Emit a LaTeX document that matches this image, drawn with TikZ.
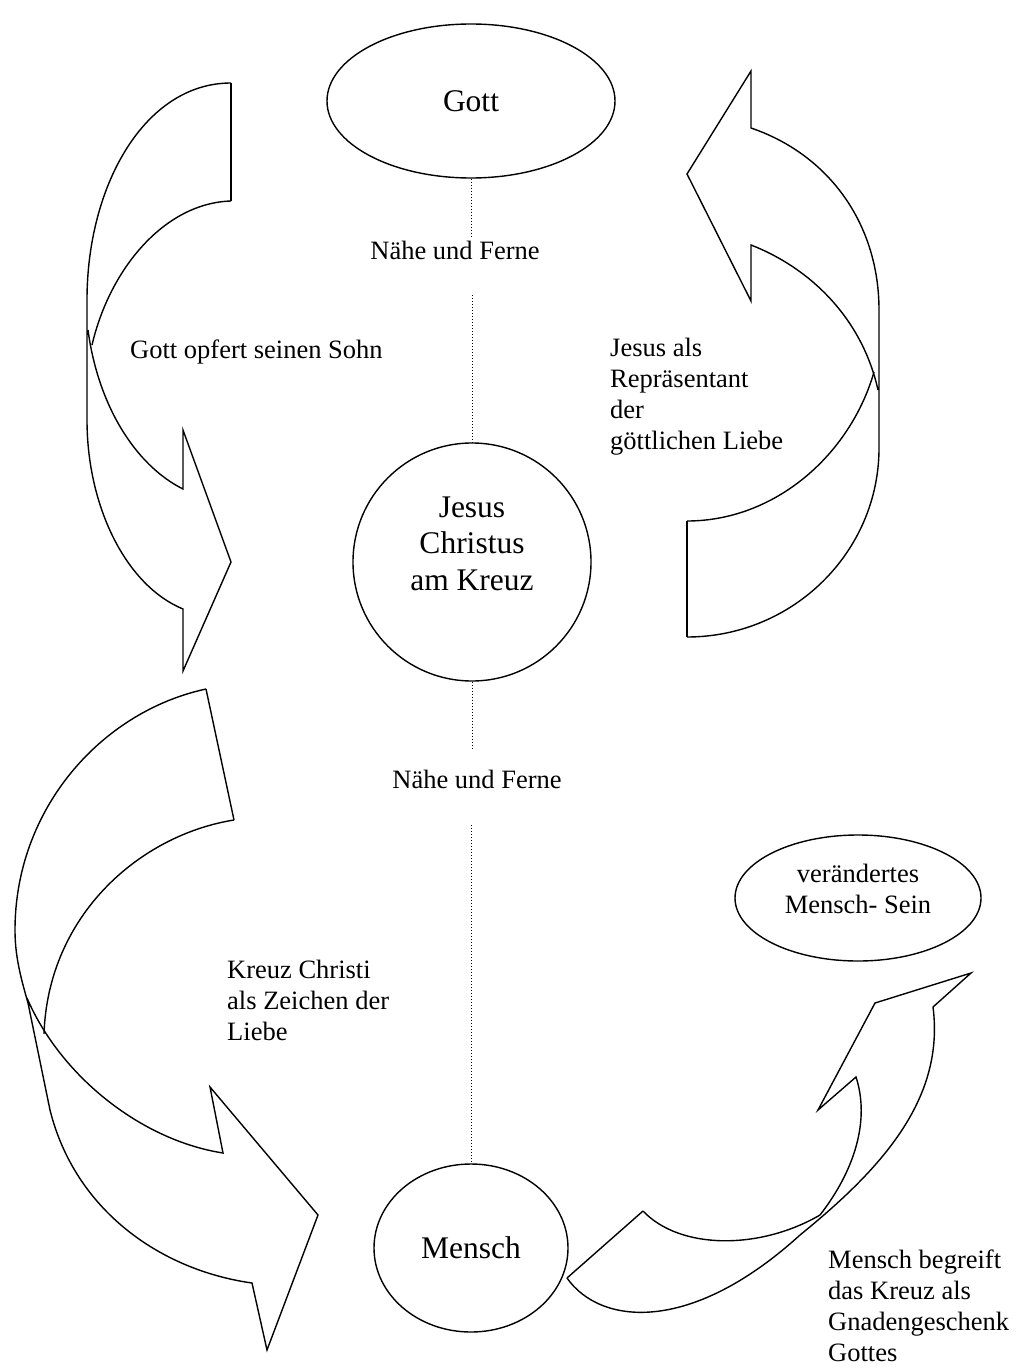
\documentclass[tikz,border=0pt]{standalone}
\usepackage{fontspec}
\setmainfont{Liberation Serif}
\usetikzlibrary{shapes.geometric}
\begin{document}
\begin{tikzpicture}[x=1pt,y=-1pt,
  outline/.style={line width=1.4pt, line join=miter},
  shape box/.style={draw, line width=1.4pt, inner sep=0pt},
  big/.style={font=\fontsize{31.5}{36.5}\selectfont},
  small/.style={font=\fontsize{26.5}{31}\selectfont},
  link/.style={dotted, line width=1pt},
  label text/.style={small, inner sep=0pt, anchor=base west}
]
\useasboundingbox (0,0) rectangle (1033,1372);

% main stations
\node[shape box, ellipse, minimum width=288pt, minimum height=154pt, big] (gott) at (471,101) {Gott};
\node[shape box, circle, minimum size=238pt, big, text height=80pt, text depth=24pt] (jesus) at (472,562)
  {\begin{tabular}[b]{@{}c@{}}Jesus\\Christus\\am Kreuz\end{tabular}};
\node[shape box, ellipse, minimum width=194pt, minimum height=168pt, big] (mensch) at (471,1248) {Mensch};
\node[shape box, ellipse, minimum width=246pt, minimum height=126pt, small, text height=45pt, text depth=15pt] (neu) at (858,898)
  {\begin{tabular}[b]{@{}c@{}}verändertes\\Mensch- Sein\end{tabular}};

% distance labels on the vertical axis
\node[small, inner sep=0pt, anchor=base, text height=22pt, text depth=36pt] (n1) at (455,259) {Nähe und Ferne};
\node[small, inner sep=0pt, anchor=base, text height=38pt, text depth=37pt] (n2) at (477,788) {Nähe und Ferne};

\draw[link] (gott.south) -- (gott.south |- n1.north);
\draw[link] (jesus.north |- n1.south) -- (jesus.north);
\draw[link] (jesus.south) -- (jesus.south |- n2.north);
\draw[link] (mensch.north |- n2.south) -- (mensch.north);

% side labels
\node[label text] (lsohn) at (130,358) {Gott opfert seinen Sohn};
\node[label text] (lliebe) at (610,356)
  {\begin{tabular}[t]{@{}l@{}}Jesus als\\Repräsentant\\der\\göttlichen Liebe\end{tabular}};
\node[label text] (lzeichen) at (227,978)
  {\begin{tabular}[t]{@{}l@{}}Kreuz Christi\\als Zeichen der\\Liebe\end{tabular}};
\node[label text] (lgnade) at (828,1268)
  {\begin{tabular}[t]{@{}l@{}}Mensch begreift\\das Kreuz als\\Gnadengeschenk\\Gottes\end{tabular}};

% curved arrow: Gott -> Jesus (left)
\draw[outline] (231,83) -- (231,201);
\draw[outline] (231,83) .. controls (145,83) and (87,185) .. (87,300) -- (87,420)
  .. controls (87,505) and (125,585) .. (183,609) -- (183,671) -- (231,562) -- (183,430) -- (183,489)
  .. controls (135,465) and (98,405) .. (88,330);
\draw[outline] (231,201) .. controls (165,203) and (110,268) .. (92,345);

% curved arrow: Jesus -> Gott (right)
\draw[outline] (687,521) -- (687,637);
\draw[outline] (687,637) .. controls (793,637) and (879,552) .. (879,448) -- (879,310)
  .. controls (879,225) and (830,155) .. (751,128) -- (751,71) -- (687,174) -- (751,301) -- (751,245)
  .. controls (810,268) and (862,318) .. (878,390);
\draw[outline] (687,521) .. controls (775,521) and (850,455) .. (874,372);

% curved arrow: towards Mensch (left)
\draw[outline] (206,689) -- (234,820);
\draw[outline] (206,689) .. controls (100,712) and (15,810) .. (15,930)
  .. controls (15,955) and (20,975) .. (28,1003) -- (50,1110)
  .. controls (75,1210) and (160,1270) .. (252,1283) -- (267,1350) -- (318,1215) -- (210,1087) -- (223,1153)
  .. controls (140,1140) and (60,1075) .. (27,998);
\draw[outline] (234,820) .. controls (140,835) and (48,915) .. (44,1034);

% curved arrow: Mensch -> verändertes Mensch-Sein
\draw[outline] (567,1278) -- (643,1211);
\draw[outline] (567,1278) .. controls (600,1325) and (690,1335) .. (800,1235)
  .. controls (880,1170) and (945,1100) .. (933,1007) -- (971,973) -- (875,1003) -- (818,1110) -- (856,1077)
  .. controls (870,1120) and (855,1170) .. (820,1215);
\draw[outline] (643,1211) .. controls (680,1250) and (760,1250) .. (820,1215);
\end{tikzpicture}
\end{document}
